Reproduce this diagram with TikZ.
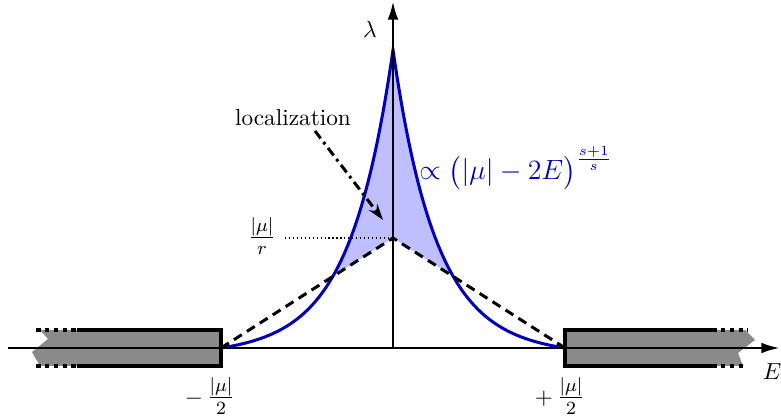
\documentclass[tikz,border=0pt]{standalone}
\usepackage{amsmath}
\usetikzlibrary{arrows.meta}
\definecolor{curveblue}{RGB}{0,0,185}
\definecolor{fillblue}{RGB}{191,191,255}
\definecolor{blockgray}{RGB}{138,138,138}
\begin{document}
\begin{tikzpicture}[x=0.43pt,y=-0.43pt,
  axisline/.style={line width=1.2pt,-{Latex[length=8pt,width=4.6pt]}},
  borderline/.style={line width=1.3pt},
  dashline/.style={line width=1.3pt,dash pattern=on 4pt off 2.6pt},
  dotborder/.style={line width=1.3pt,dash pattern=on 2pt off 1.8pt},
  blockfill/.style={fill=blockgray},
  curveline/.style={curveblue,line width=1.3pt},
  locarrow/.style={line width=1.3pt,dash pattern=on 4pt off 2pt on 1.2pt off 2pt,-{Stealth[length=7pt,width=4.5pt]}},
  thindot/.style={line width=0.5pt,dash pattern=on 0.5pt off 1.2pt}]
\useasboundingbox (0,0) rectangle (781,419);
\coordinate (L) at (221,348);
\coordinate (R) at (565,348);
\coordinate (M) at (393,238);
\coordinate (P) at (393,50);
\coordinate (O) at (393,348);
\coordinate (Xs) at (8,348);
\coordinate (Xe) at (780,348);
\coordinate (Ye) at (393,1);
\coordinate (Dl) at (285,238);
\coordinate (la1) at (315,131);
\coordinate (la2) at (383,220);
% gray blocks
\fill[blockfill] (221,330) -- (40,330) -- (48,339) -- (32,352) -- (40,366) -- (221,366) -- cycle;
\fill[blockfill] (565,330) -- (745,330) -- (755,340) -- (738,353) -- (743,366) -- (565,366) -- cycle;
% blue fill
\begin{scope}
\clip (L) -- (M) -- (R) -- (565,0) -- (221,0) -- cycle;
\fill[fillblue] plot[domain=1:0,samples=90,variable=\u] ({393-172*\u},{348-298*(exp(-4*\u)-\u*exp(-4))})
  -- plot[domain=0:1,samples=90,variable=\u] ({393+172*\u},{348-298*(exp(-4*\u)-\u*exp(-4))}) -- cycle;
\end{scope}
\draw[curveline] plot[domain=1:0,samples=90,variable=\u] ({393-172*\u},{348-298*(exp(-4*\u)-\u*exp(-4))})
  -- plot[domain=0:1,samples=90,variable=\u] ({393+172*\u},{348-298*(exp(-4*\u)-\u*exp(-4))});
\draw[dashline] (L) -- (M) -- (R);
\draw[thindot] (Dl) -- (M);
% axes
\draw[axisline] (Xs) -- (Xe);
\draw[axisline] (O) -- (Ye);
% block borders
\draw[borderline] (77,330) -- (221,330) -- (221,366) -- (77,366);
\draw[dotborder] (36,330) -- (77,330);
\draw[dotborder] (36,366) -- (77,366);
\draw[borderline] (712,330) -- (565,330) -- (565,366) -- (712,366);
\draw[dotborder] (712,330) -- (748,330);
\draw[dotborder] (712,366) -- (743,366);
% labels
\node (lam) at (370,29) {$\lambda$};
\node (E) at (772,372) {$E$};
\node[anchor=base] (loc) at (293,126) {localization};
\node (mur) at (262,236) {\large$\frac{|\mu|}{r}$};
\node (ml) at (210,396) {$-$\,{\large$\frac{|\mu|}{2}$}};
\node (mr) at (560,396) {$+$\,{\large$\frac{|\mu|}{2}$}};
\node[anchor=base west,text=curveblue,font=\large,inner sep=0pt] (law) at (419,180) {$\propto \bigl(|\mu|-2E\bigr)^{\frac{s+1}{s}}$};
\draw[locarrow] (la1) -- (la2);
\end{tikzpicture}
\end{document}
